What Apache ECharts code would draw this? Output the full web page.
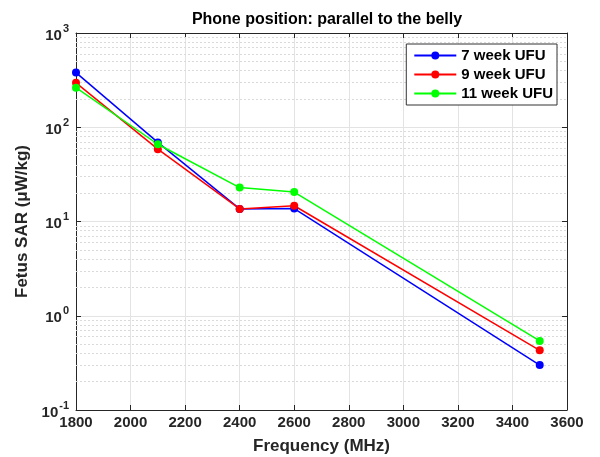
<!DOCTYPE html>
<html><head><meta charset="utf-8">
<script src="https://cdn.jsdelivr.net/npm/echarts@6/dist/echarts.min.js"></script>
<style>html,body{margin:0;padding:0;background:#fff}#c{width:600px;height:457px}</style>
</head><body><div id="c"></div>
<script>
const frequencies = [1800, 2100, 2400, 2600, 3500];
const week7 = [380, 69, 13.6, 13.7, 0.30];
const week9 = [296, 58.5, 13.6, 14.7, 0.43];
const week11 = [263, 66, 22.9, 20.5, 0.54];
const seriesNames = ['7 week UFU', '9 week UFU', '11 week UFU'];
const colors = ['#0000ff', '#ff0000', '#00ff00'];
const minorGridValues = [];
[0.1, 1, 10, 100].forEach(d => { for (let m = 2; m <= 9; m++) minorGridValues.push(+(m * d).toPrecision(3)); });

const font = 'Liberation Sans, Arial, Helvetica, sans-serif';
const chart = echarts.init(document.getElementById('c'));
const mk = (name, data, color) => ({
  name, type: 'line', data: frequencies.map((f, i) => [f, data[i]]),
  symbol: 'circle', symbolSize: 8, itemStyle: { color }, lineStyle: { color, width: 1.5 },
  emphasis: { disabled: true }, z: 3
});
chart.setOption({
  animation: false,
  title: { text: 'Phone position: parallel to the belly', left: 322, top: 7, textAlign: 'center',
    textStyle: { fontFamily: font, fontSize: 16, fontWeight: 'bold', color: '#000' } },
  grid: { left: 76, right: 33, top: 33, bottom: 47, outerBoundsMode: 'none', containLabel: false },
  legend: {
    data: seriesNames.map((n, i) => ({ name: n, itemStyle: { color: colors[i], borderWidth: 0 } })),
    orient: 'vertical', right: 43, top: 44,
    backgroundColor: '#fff', borderColor: '#333', borderWidth: 1, padding: [3, 4, 3, 7],
    itemWidth: 42, itemHeight: 10, itemGap: 2,
    textStyle: { fontFamily: font, fontSize: 15, fontWeight: 'bold', color: '#000', lineHeight: 17 }
  },
  xAxis: [{
    type: 'value', min: 1800, max: 3600, interval: 200,
    name: 'Frequency (MHz)', nameLocation: 'middle', nameGap: 28,
    nameTextStyle: { fontFamily: font, fontSize: 17, fontWeight: 'bold', color: '#262626' },
    axisLine: { lineStyle: { color: '#262626' } },
    axisTick: { inside: true, length: 5, lineStyle: { color: '#262626' } },
    axisLabel: { fontFamily: font, fontSize: 15, fontWeight: 'bold', color: '#262626', margin: 5,
      formatter: v => String(v) },
    splitLine: { show: true, lineStyle: { color: '#e3e3e3', width: 1 } }
  }, {
    type: 'value', min: 1800, max: 3600, interval: 200, position: 'top',
    axisLine: { show: true, lineStyle: { color: '#262626' } },
    axisTick: { show: true, inside: true, length: 5, lineStyle: { color: '#262626' } },
    axisLabel: { show: false }, splitLine: { show: false }
  }],
  yAxis: [{
    type: 'log', logBase: 10, min: 0.1, max: 1000,
    name: 'Fetus SAR (\u03bcW/kg)', nameLocation: 'middle', nameGap: 44, nameRotate: 90,
    nameTextStyle: { fontFamily: font, fontSize: 17, fontWeight: 'bold', color: '#262626' },
    axisLine: { show: true, lineStyle: { color: '#262626' } },
    axisTick: { show: true, inside: true, length: 5, lineStyle: { color: '#262626' } },
    axisLabel: {
      margin: 7,
      formatter: v => '{b|10}{s|' + Math.round(Math.log10(v)) + '}',
      rich: {
        b: { fontFamily: font, fontSize: 15, fontWeight: 'bold', color: '#262626', verticalAlign: 'bottom', padding: [5, 0, 0, 0] },
        s: { fontFamily: font, fontSize: 11, fontWeight: 'bold', color: '#262626', verticalAlign: 'top', padding: [0, 0, 6, 1] }
      }
    },
    splitLine: { show: true, lineStyle: { color: '#e3e3e3', width: 1 } }
  }, {
    type: 'log', logBase: 10, min: 0.1, max: 1000, position: 'right',
    axisLine: { show: true, lineStyle: { color: '#262626' } },
    axisTick: { show: true, inside: true, length: 5, lineStyle: { color: '#262626' } },
    axisLabel: { show: false }, splitLine: { show: false }
  }],
  series: [
    {
      type: 'line', data: [], silent: true, z: 1,
      markLine: {
        silent: true, symbol: 'none', label: { show: false }, z: 1,
        lineStyle: { type: [2, 2], color: '#dadada', width: 1 },
        emphasis: { disabled: true },
        data: minorGridValues.map(v => ({ yAxis: v }))
      }
    },
    mk(seriesNames[0], week7, colors[0]),
    mk(seriesNames[1], week9, colors[1]),
    mk(seriesNames[2], week11, colors[2])
  ]
});
</script></body></html>
